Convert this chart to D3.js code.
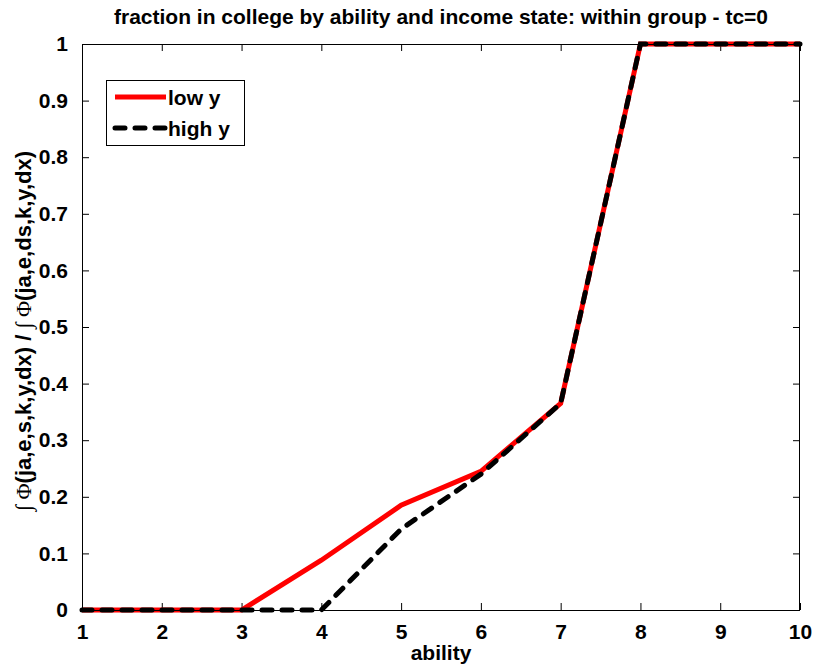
<!DOCTYPE html>
<html>
<head>
<meta charset="utf-8">
<script src="https://cdn.jsdelivr.net/npm/d3@7"></script>
<style>
  html, body { margin: 0; padding: 0; background: #fff; }
  svg { display: block; }
  text { font-family: "Liberation Sans", Arial, Helvetica, sans-serif; font-weight: bold; fill: #000; }
</style>
</head>
<body>
<svg id="chart" width="814" height="667"></svg>
<script>
// ---- data ----
const ability = [1, 2, 3, 4, 5, 6, 7, 8, 9, 10];
const lowY  = [0, 0, 0, 0.088, 0.185, 0.245, 0.365, 1, 1, 1];
const highY = [0, 0, 0, 0, 0.143, 0.24, 0.365, 1, 1, 1];
const xTicks = [1, 2, 3, 4, 5, 6, 7, 8, 9, 10];
const yTicks = [0, 0.1, 0.2, 0.3, 0.4, 0.5, 0.6, 0.7, 0.8, 0.9, 1];
const seriesNames = ["low y", "high y"];
const titleText = "fraction in college by ability and income state: within group - tc=0";
const xLabel = "ability";

// ---- layout ----
const svg = d3.select("#chart");
const L = 82, R = 800, T = 44, B = 610;
const x = d3.scaleLinear().domain([1, 10]).range([L, R]);
const y = d3.scaleLinear().domain([0, 1]).range([B, T]);
const tickLen = 7;
const fs = 21;

// plot background
svg.append("rect").attr("x", L).attr("y", T).attr("width", R - L).attr("height", B - T)
  .attr("fill", "#fff").attr("stroke", "none");

// axes (ticks inward)
const gx = svg.append("g").attr("transform", `translate(0,${B})`)
  .call(d3.axisBottom(x).tickValues(xTicks).tickSize(-tickLen).tickPadding(tickLen + 6).tickFormat(d3.format("d")));
const gxTop = svg.append("g").attr("transform", `translate(0,${T})`)
  .call(d3.axisTop(x).tickValues(xTicks).tickSize(-tickLen).tickFormat(""));
const gy = svg.append("g").attr("transform", `translate(${L},0)`)
  .call(d3.axisLeft(y).tickValues(yTicks).tickSize(-tickLen).tickPadding(tickLen + 7).tickFormat(d => d === 0 ? "0" : d === 1 ? "1" : d3.format(".1f")(d)));
const gyR = svg.append("g").attr("transform", `translate(${R},0)`)
  .call(d3.axisRight(y).tickValues(yTicks).tickSize(-tickLen).tickFormat(""));

[gx, gxTop, gy, gyR].forEach(g => {
  g.select(".domain").remove();
  g.selectAll(".tick line").attr("stroke", "#000").attr("stroke-width", 1);
  g.selectAll(".tick text").style("font-size", fs + "px").style("font-weight", "bold")
    .style("font-family", "'Liberation Sans', Arial, sans-serif").attr("fill", "#000");
});
gx.selectAll(".tick text").attr("dy", "0.71em").attr("y", 14);

// lines
const line = d3.line().x((d, i) => x(ability[i])).y(d => y(d));
svg.append("path").datum(lowY).attr("d", line)
  .attr("fill", "none").attr("stroke", "#ff0000").attr("stroke-width", 5)
  .attr("stroke-linejoin", "miter");
svg.append("path").datum(highY).attr("d", line)
  .attr("fill", "none").attr("stroke", "#000").attr("stroke-width", 5)
  .attr("stroke-dasharray", "10,10").attr("stroke-linecap", "round");

// frame border on top
svg.append("rect").attr("x", L + 0.5).attr("y", T + 0.5).attr("width", R - L - 1).attr("height", B - T)
  .attr("fill", "none").attr("stroke", "#000").attr("stroke-width", 1);

// title
svg.append("text").attr("x", (L + R) / 2).attr("y", 24).attr("text-anchor", "middle")
  .style("font-size", fs + "px").text(titleText);

// x label
svg.append("text").attr("x", (L + R) / 2).attr("y", 660).attr("text-anchor", "middle")
  .style("font-size", fs + "px").text(xLabel);

// y label
const yl = svg.append("text").attr("transform", `translate(31,${(T + B) / 2 + 4}) rotate(-90)`)
  .attr("text-anchor", "middle").style("font-size", "22px");
const sym = { "font-family": "'Liberation Serif', 'Times New Roman', serif", "font-weight": "normal" };
function part(t, s) {
  const ts = yl.append("tspan").text(t);
  if (s) Object.entries(sym).forEach(([k, v]) => ts.style(k, v));
}
part("\u222B ", true); part("\u03A6", true); part("(ja,e,s,k,y,dx) / ");
part("\u222B ", true); part("\u03A6", true); part("(ja,e,ds,k,y,dx)");

// legend
const lg = svg.append("g");
lg.append("rect").attr("x", 106.5).attr("y", 80.5).attr("width", 138).attr("height", 65)
  .attr("fill", "#fff").attr("stroke", "#000").attr("stroke-width", 1);
const legY = [97, 128];
const legStyles = [
  { stroke: "#ff0000", dash: null, cap: "butt" },
  { stroke: "#000", dash: "10,10", cap: "round" }
];
seriesNames.forEach((n, i) => {
  const ln = lg.append("line").attr("x1", 115).attr("x2", 166).attr("y1", legY[i]).attr("y2", legY[i])
    .attr("stroke", legStyles[i].stroke).attr("stroke-width", 5).attr("stroke-linecap", legStyles[i].cap);
  if (legStyles[i].dash) ln.attr("stroke-dasharray", legStyles[i].dash);
  lg.append("text").attr("x", 168).attr("y", legY[i] + 8).style("font-size", fs + "px").text(n);
});
</script>
</body>
</html>
